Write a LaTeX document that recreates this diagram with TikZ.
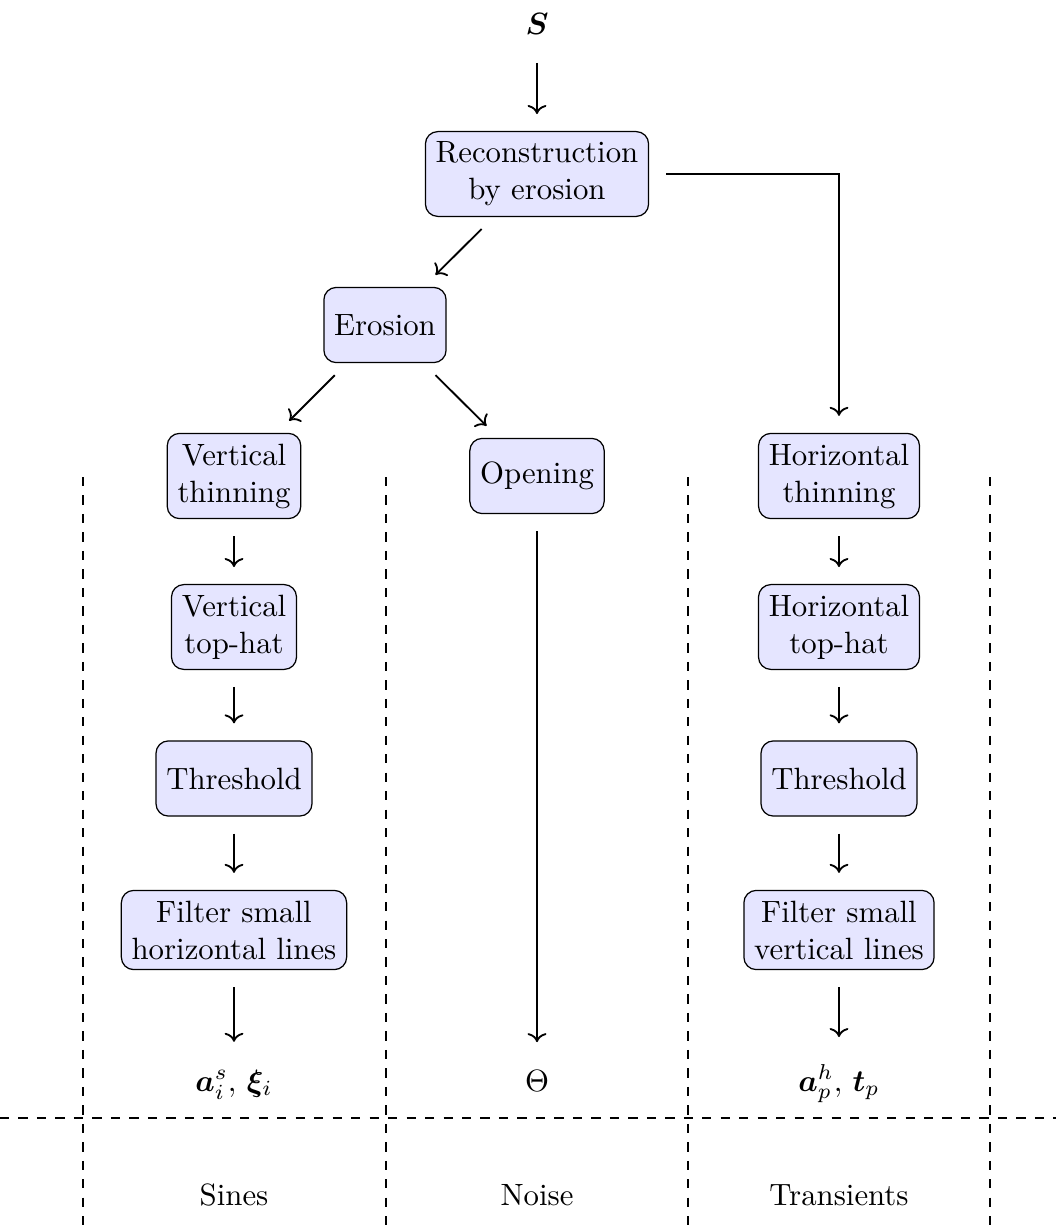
\documentclass[tikz,border=0pt]{standalone}
\usepackage{bm}
\usetikzlibrary{arrows.meta}

\tikzset{
  procbox/.style={draw, fill=blue!10, rounded corners=4pt, align=center,
                  minimum height=24.4pt, font=\normalsize},
  flow/.style={->, semithick, shorten >=5.5pt, shorten <=5.5pt},
  sep/.style={dashed, thin},
  outlabel/.style={anchor=base, inner sep=3.33pt},
}

\begin{document}
\begin{tikzpicture}[x=0.32468pt, y=-0.32468pt]
  \useasboundingbox (0,0) rectangle (1056,1230);

  % input signal
  \node[outlabel] (S) at (537,35) {$\bm{S}$};

  % processing blocks
  \node[procbox] (recon)   at (537,174)   {Reconstruction\\by erosion};
  \node[procbox] (erosion) at (385,325)   {Erosion};

  \node[procbox] (vthin)   at (234,476)   {Vertical\\thinning};
  \node[procbox] (opening) at (537,476)   {Opening};
  \node[procbox] (hthin)   at (839,476)   {Horizontal\\thinning};

  \node[procbox] (vtop)    at (234,627)   {Vertical\\top-hat};
  \node[procbox] (htop)    at (839,627)   {Horizontal\\top-hat};

  \node[procbox] (vthr)    at (234,778.5) {Threshold};
  \node[procbox] (hthr)    at (839,778.5) {Threshold};

  \node[procbox] (vfil)    at (234,930)   {Filter small\\horizontal lines};
  \node[procbox] (hfil)    at (839,930)   {Filter small\\vertical lines};

  % outputs
  \node[outlabel] (sines) at (234,1091) {$\bm{a}_i^s,\, \bm{\xi}_i$};
  \node[outlabel] (noise) at (537,1091) {$\Theta$};
  \node[outlabel] (trans) at (839,1091) {$\bm{a}_p^h,\, \bm{t}_p$};

  % column titles
  \node[outlabel] (tsines) at (234,1205) {Sines};
  \node[outlabel] (tnoise) at (537,1205) {Noise};
  \node[outlabel] (ttrans) at (839,1205) {Transients};

  % column separators
  \foreach \xx in {83,386,688,990}
    \draw[sep] (\xx,477) -- (\xx,1230);
  \draw[sep] (0,1118) -- (1056,1118);

  % connectors
  \draw[flow] (S) -- (recon);
  \draw[flow] (recon) -- (erosion);
  \draw[flow] (recon) -| (hthin);
  \draw[flow] (erosion) -- (vthin);
  \draw[flow] (erosion) -- (opening);

  \draw[flow] (vthin) -- (vtop);
  \draw[flow] (vtop) -- (vthr);
  \draw[flow] (vthr) -- (vfil);
  \draw[flow] (vfil) -- (sines);

  \draw[flow] (opening) -- (noise);

  \draw[flow] (hthin) -- (htop);
  \draw[flow] (htop) -- (hthr);
  \draw[flow] (hthr) -- (hfil);
  \draw[flow] (hfil) -- (trans);
\end{tikzpicture}
\end{document}
